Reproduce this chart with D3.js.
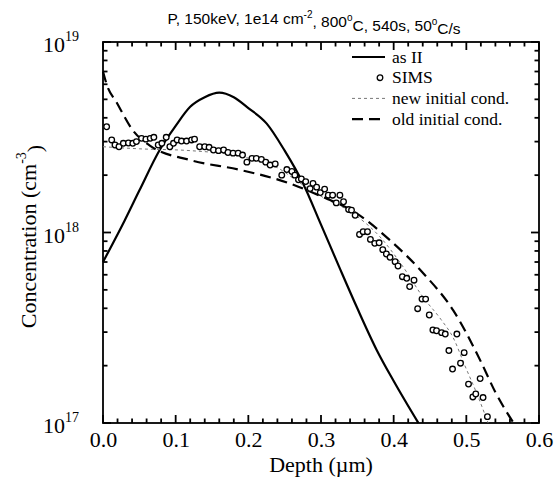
<!DOCTYPE html>
<html>
<head>
<meta charset="utf-8">
<script src="https://cdn.jsdelivr.net/npm/d3@7"></script>
<style>
  body { margin: 0; background: #fff; }
  svg { display: block; }
</style>
</head>
<body>
<script>
// profile data (depth in um, concentration in cm^-3)
var asIIDepth = [0, 0.03, 0.05, 0.078, 0.1, 0.12, 0.14, 0.16, 0.18, 0.2, 0.225, 0.25, 0.275, 0.3, 0.325, 0.35, 0.3766, 0.4, 0.434];
var asIIConc = [7.0e17, 1.16e18, 1.66e18, 2.71e18, 3.63e18, 4.57e18, 5.13e18, 5.42e18, 5.13e18, 4.5e18, 3.74e18, 2.69e18, 1.82e18, 1.10e18, 6.6e17, 4.0e17, 2.42e17, 1.66e17, 1.0e17];

var oldDepth = [0, 0.005, 0.019, 0.042, 0.065, 0.12, 0.189, 0.257, 0.3, 0.349, 0.395, 0.441, 0.482, 0.52, 0.54, 0.565];
var oldConc = [7.0e18, 6.0e18, 4.8e18, 3.4e18, 2.85e18, 2.4e18, 2.13e18, 1.81e18, 1.55e18, 1.26e18, 9.1e17, 6.1e17, 3.9e17, 2.1e17, 1.45e17, 1.0e17];

var newDepth = [0, 0.05, 0.12, 0.189, 0.24, 0.271, 0.3, 0.344, 0.381, 0.413, 0.44, 0.465, 0.482, 0.498, 0.515, 0.53];
var newConc = [2.82e18, 2.75e18, 2.69e18, 2.51e18, 2.19e18, 1.82e18, 1.55e18, 1.26e18, 9.5e17, 6.6e17, 4.6e17, 3.5e17, 2.8e17, 2.0e17, 1.41e17, 1.0e17];

var simsDepth = [0.005, 0.012, 0.0165, 0.022, 0.028, 0.035, 0.041, 0.046, 0.053, 0.059, 0.065, 0.070, 0.076, 0.081, 0.087, 0.092, 0.097, 0.102, 0.108, 0.115,
  0.122, 0.126, 0.133, 0.140, 0.146, 0.152, 0.159, 0.166, 0.172, 0.179, 0.186, 0.192, 0.198, 0.205, 0.211, 0.218, 0.224, 0.230, 0.237, 0.246,
  0.253, 0.260, 0.264, 0.269, 0.273, 0.279, 0.285, 0.289, 0.294, 0.299, 0.305, 0.310, 0.316, 0.321, 0.326, 0.331, 0.338, 0.342, 0.347, 0.353,
  0.358, 0.364, 0.368, 0.374, 0.380, 0.385, 0.390, 0.395, 0.402, 0.406, 0.412, 0.418, 0.422, 0.428, 0.433, 0.439, 0.444, 0.449, 0.454, 0.459,
  0.466, 0.471, 0.476, 0.481, 0.487, 0.492, 0.497, 0.503, 0.509, 0.513, 0.519, 0.523, 0.529];
var simsConc = [3.59e18, 3.06e18, 2.88e18, 2.82e18, 2.94e18, 2.95e18, 2.94e18, 3.00e18, 3.12e18, 3.09e18, 3.12e18, 3.16e18, 2.88e18, 2.94e18, 3.16e18, 2.82e18, 2.94e18, 3.06e18, 3.02e18, 3.02e18,
  3.06e18, 3.09e18, 2.82e18, 2.82e18, 2.80e18, 2.71e18, 2.69e18, 2.71e18, 2.63e18, 2.61e18, 2.61e18, 2.55e18, 2.34e18, 2.45e18, 2.45e18, 2.42e18, 2.34e18, 2.26e18, 2.29e18, 2.00e18,
  2.14e18, 2.09e18, 2.00e18, 1.89e18, 1.91e18, 1.85e18, 1.70e18, 1.81e18, 1.73e18, 1.62e18, 1.69e18, 1.57e18, 1.57e18, 1.43e18, 1.57e18, 1.45e18, 1.32e18, 1.31e18, 1.23e18, 9.77e17,
  1.01e18, 1.01e18, 9.20e17, 8.77e17, 8.83e17, 8.13e17, 7.71e17, 7.41e17, 7.03e17, 6.67e17, 5.86e17, 5.75e17, 5.20e17, 5.62e17, 3.98e17, 4.47e17, 4.47e17, 3.69e17, 3.08e17, 3.05e17,
  2.98e17, 2.93e17, 2.40e17, 1.92e17, 2.93e17, 2.06e17, 2.34e17, 1.60e17, 1.37e17, 1.42e17, 1.71e17, 1.36e17, 1.08e17];

var xTicks = [0, 0.1, 0.2, 0.3, 0.4, 0.5, 0.6];
var yTicks = [1e17, 1e18, 1e19];
var yExp = ["17", "18", "19"];
var legendLabels = ["as II", "SIMS", "new initial cond.", "old initial cond."];
var title = "P, 150keV, 1e14 cm";

var margin = {top: 42, right: 18, bottom: 62, left: 103};
var width = 557 - margin.left - margin.right,
    height = 485 - margin.top - margin.bottom;

var serif = "'Liberation Serif', 'Times New Roman', serif";
var sans = "'Liberation Sans', Arial, sans-serif";

var svg = d3.select("body").append("svg")
    .attr("width", 557)
    .attr("height", 485);

var g = svg.append("g")
    .attr("transform", `translate(${margin.left},${margin.top})`);

var x = d3.scaleLinear().domain([0, 0.6]).range([0, width]);
var y = d3.scaleLog().domain([1e17, 1e19]).range([height, 0]);

// minor ticks
var xMinor = d3.range(0, 0.6001, 0.02).filter(d => Math.abs(d * 10 - Math.round(d * 10)) > 1e-6);
var yMinor = [];
[1e17, 1e18].forEach(function (dec) {
  for (var k = 2; k <= 9; k++) yMinor.push(dec * k);
});

// tick labels from the axes, tick marks drawn by hand (inward, all four sides)
var xAxisG = g.append("g").attr("transform", `translate(0,${height})`)
  .call(d3.axisBottom(x).tickValues(xTicks).tickSize(0).tickPadding(8).tickFormat(d3.format(".1f")));
xAxisG.select(".domain").remove();
xAxisG.selectAll("text")
  .attr("font-family", serif).attr("font-size", 22).attr("fill", "#000");

var yAxisG = g.append("g")
  .call(d3.axisLeft(y).tickValues(yTicks).tickSize(0).tickPadding(24).tickFormat(""));
yAxisG.select(".domain").remove();
yAxisG.selectAll(".tick text")
  .attr("font-family", serif).attr("font-size", 22).attr("fill", "#000")
  .attr("dy", "0.45em")
  .each(function (d, i) {
    var t = d3.select(this);
    t.append("tspan").text("10");
    t.append("tspan").attr("font-size", 14).attr("dy", "-0.8em").text(yExp[i]);
  });

var ticks = g.append("g").attr("stroke", "#000").attr("stroke-width", 1.8);
function xTickMarks(vals, len) {
  vals.forEach(function (v) {
    ticks.append("line").attr("x1", x(v)).attr("x2", x(v)).attr("y1", height).attr("y2", height - len);
    ticks.append("line").attr("x1", x(v)).attr("x2", x(v)).attr("y1", 0).attr("y2", len);
  });
}
function yTickMarks(vals, len) {
  vals.forEach(function (v) {
    ticks.append("line").attr("x1", 0).attr("x2", len).attr("y1", y(v)).attr("y2", y(v));
    ticks.append("line").attr("x1", width).attr("x2", width - len).attr("y1", y(v)).attr("y2", y(v));
  });
}
xTickMarks(xTicks, 8);
xTickMarks(xMinor, 4.5);
yTickMarks(yTicks, 8);
yTickMarks(yMinor, 4.5);

// frame
g.append("rect")
  .attr("width", width).attr("height", height)
  .attr("fill", "none").attr("stroke", "#000").attr("stroke-width", 1.8);

var plot = g.append("g");

var line = d3.line()
  .x(d => x(d[0]))
  .y(d => y(d[1]))
  .curve(d3.curveMonotoneX);

plot.append("path")
  .datum(d3.zip(asIIDepth, asIIConc))
  .attr("d", line)
  .attr("fill", "none").attr("stroke", "#000").attr("stroke-width", 2.2);

plot.append("path")
  .datum(d3.zip(newDepth, newConc))
  .attr("d", line)
  .attr("fill", "none").attr("stroke", "#777").attr("stroke-width", 1)
  .attr("stroke-dasharray", "3,3");

plot.append("path")
  .datum(d3.zip(oldDepth, oldConc))
  .attr("d", line)
  .attr("fill", "none").attr("stroke", "#000").attr("stroke-width", 2.2)
  .attr("stroke-dasharray", "11,6");

plot.selectAll("circle.sims")
  .data(d3.zip(simsDepth, simsConc))
  .join("circle")
  .attr("class", "sims")
  .attr("cx", d => x(d[0]))
  .attr("cy", d => y(d[1]))
  .attr("r", 2.8)
  .attr("fill", "#fff").attr("stroke", "#000").attr("stroke-width", 1.3);

// legend
var legend = g.append("g").attr("transform", "translate(249,15)");
legendLabels.forEach(function (lab, i) {
  var row = legend.append("g").attr("transform", `translate(0,${i * 20.7})`);
  if (i === 0) {
    row.append("line").attr("x1", 0).attr("x2", 33).attr("stroke", "#000").attr("stroke-width", 2.2);
  } else if (i === 1) {
    row.append("circle").attr("cx", 28).attr("r", 2.8).attr("fill", "#fff").attr("stroke", "#000").attr("stroke-width", 1.3);
  } else if (i === 2) {
    row.append("line").attr("x1", 0).attr("x2", 33).attr("stroke", "#777").attr("stroke-width", 1).attr("stroke-dasharray", "3,3");
  } else {
    row.append("line").attr("x1", 0).attr("x2", 33).attr("stroke", "#000").attr("stroke-width", 2.2).attr("stroke-dasharray", "11,6");
  }
  row.append("text")
    .attr("x", 40).attr("dy", "0.33em")
    .attr("font-family", serif).attr("font-size", 17.5).attr("fill", "#000")
    .text(lab);
});

// axis titles
svg.append("text")
  .attr("x", margin.left + width / 2).attr("y", 472)
  .attr("text-anchor", "middle")
  .attr("font-family", serif).attr("font-size", 22)
  .text("Depth (\u00b5m)");

var yt = svg.append("text")
  .attr("transform", `translate(36,${margin.top + height / 2 + 4}) rotate(-90)`)
  .attr("text-anchor", "middle")
  .attr("font-family", serif).attr("font-size", 22);
yt.append("tspan").text("Concentration (cm");
yt.append("tspan").attr("font-size", 14).attr("dy", "-0.7em").text("-3");
yt.append("tspan").attr("dy", "0.7em").text(")");

// title
var tt = svg.append("text")
  .attr("x", 314).attr("y", 24)
  .attr("text-anchor", "middle")
  .attr("font-family", sans).attr("font-size", 15.5);
tt.append("tspan").text(title);
tt.append("tspan").attr("font-size", 10).attr("dy", "-0.6em").text("-2");
tt.append("tspan").attr("dy", "0.6em").text(", 800");
tt.append("tspan").attr("font-size", 10).attr("dy", "-0.6em").text("o");
tt.append("tspan").attr("dy", "0.6em").text("C, 540s, 50");
tt.append("tspan").attr("font-size", 10).attr("dy", "-0.6em").text("o");
tt.append("tspan").attr("dy", "0.6em").text("C/s");
</script>
</body>
</html>
